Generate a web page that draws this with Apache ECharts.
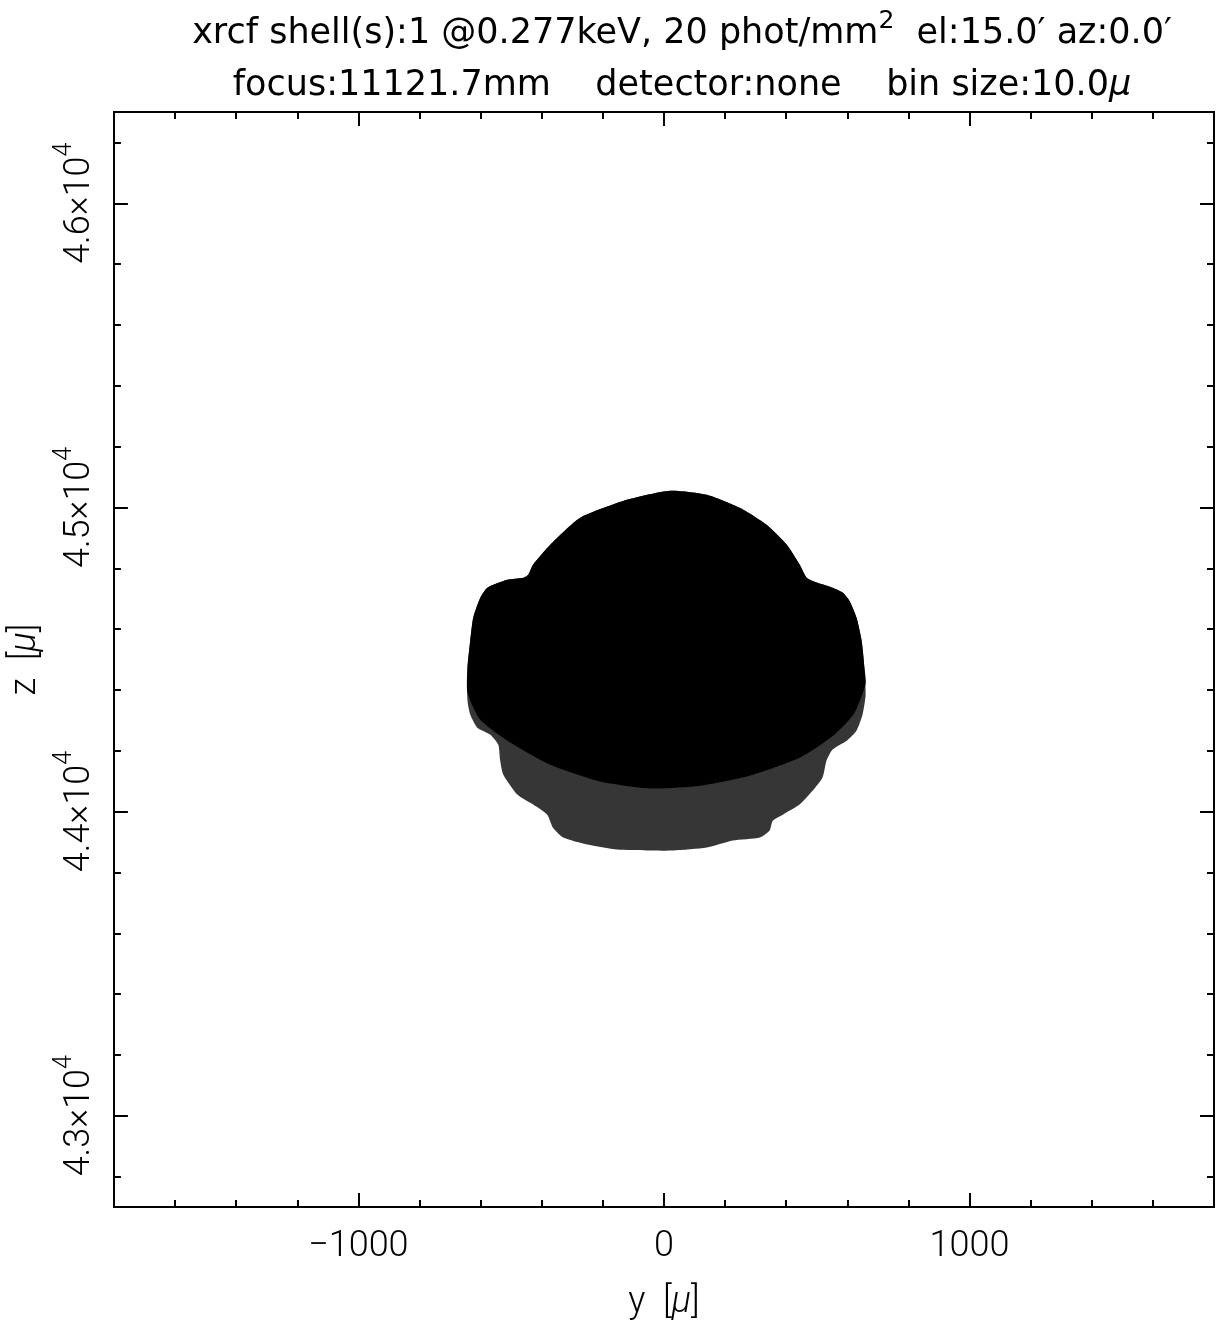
<!DOCTYPE html>
<html>
<head>
<meta charset="utf-8">
<script src="https://cdn.jsdelivr.net/npm/echarts@6/dist/echarts.min.js"></script>
<style>
  html, body { margin: 0; padding: 0; background: #fff; }
  #chart { width: 1226px; height: 1331px; }
</style>
</head>
<body>
<div id="chart"></div>
<script>
// Axis ranges (microns)
const yRange = [-1800, 1800];
const zRange = [42700, 46300];

// Tick positions
const yMajorTicks = [-1000, 0, 1000];
const yMinorTicks = [-1600, -1400, -1200, -800, -600, -400, -200, 200, 400, 600, 800, 1200, 1400, 1600];
const zMajorTicks = [43000, 44000, 45000, 46000];
const zMinorTicks = [42800, 43200, 43400, 43600, 43800, 44200, 44400, 44600, 44800, 45200, 45400, 45600, 45800, 46200];

// Outer edge of the photon footprint, [y, z] in microns
const footprintEdge = [
  [20, 45055], [140, 45042], [248, 44999], [336, 44943], [402, 44877], [444, 44812],
  [467, 44769], [500, 44753], [552, 44736], [585, 44720], [607, 44693], [630, 44638],
  [647, 44562], [656, 44473], [660, 44384], [650, 44319], [630, 44266], [598, 44233],
  [552, 44204], [532, 44168], [519, 44112], [487, 44069], [444, 44023], [389, 43990],
  [356, 43970], [346, 43938], [314, 43915], [225, 43905], [140, 43882], [29, 43872],
  [-56, 43872], [-153, 43875], [-251, 43892], [-330, 43915], [-363, 43947], [-382, 43990],
  [-428, 44023], [-480, 44056], [-526, 44122], [-536, 44168], [-542, 44220], [-568, 44253],
  [-611, 44276], [-634, 44319], [-643, 44365], [-643, 44473], [-634, 44562], [-624, 44638],
  [-601, 44703], [-578, 44736], [-513, 44762], [-460, 44769], [-444, 44779], [-428, 44812],
  [-372, 44877], [-274, 44966], [-121, 45025]
];

// Edge of the saturated (densest) part of the footprint
const denseCoreEdge = [
  [20, 45055], [140, 45042], [248, 44999], [336, 44943], [402, 44877], [444, 44812],
  [467, 44769], [500, 44753], [552, 44736], [585, 44720], [607, 44693], [630, 44638],
  [647, 44562], [656, 44473], [660, 44420], [624, 44325], [558, 44253], [444, 44177],
  [281, 44118], [118, 44085], [-46, 44076], [-209, 44099], [-372, 44154], [-503, 44227],
  [-601, 44302], [-643, 44391], [-643, 44473], [-634, 44562], [-624, 44638], [-601, 44703],
  [-578, 44736], [-513, 44762], [-460, 44769], [-444, 44779], [-428, 44812], [-372, 44877],
  [-274, 44966], [-121, 45025]
];

const FONT = 'Roboto, "Liberation Sans", sans-serif';
const TFONT = '"DejaVu Sans", Roboto, sans-serif';
const FW = 300;
const INK = '#000';

const chart = echarts.init(document.getElementById('chart'), null, { renderer: 'canvas' });

function fmtY(v) {
  return v < 0 ? '\u2212' + Math.abs(v) : String(v);
}
function fmtZ(v) {
  return '{b|' + (v / 1e4).toFixed(1) + '\u00d710}{s|4}';
}

const labelRich = {
  b: { fontFamily: FONT, fontWeight: FW, fontSize: 36, color: INK, lineHeight: 46, verticalAlign: 'bottom' },
  s: { fontFamily: FONT, fontWeight: FW, fontSize: 25, color: INK, lineHeight: 46, verticalAlign: 'top' }
};

function hAxis(pos, values, len, withLabels, extra) {
  return Object.assign({
    type: 'value', gridIndex: 0, position: pos,
    min: yRange[0], max: yRange[1],
    axisLine: { show: true, onZero: false, lineStyle: { color: INK, width: 2 } },
    axisTick: { show: true, inside: true, length: len, customValues: values, lineStyle: { color: INK, width: 2 } },
    axisLabel: withLabels
      ? { show: true, customValues: values, margin: 22, fontFamily: FONT, fontWeight: FW, fontSize: 36, color: INK, formatter: fmtY }
      : { show: false },
    splitLine: { show: false }
  }, extra || {});
}
function vAxis(pos, values, len, withLabels, extra) {
  return Object.assign({
    type: 'value', gridIndex: 0, position: pos,
    min: zRange[0], max: zRange[1],
    axisLine: { show: true, onZero: false, lineStyle: { color: INK, width: 2 } },
    axisTick: { show: true, inside: true, length: len, customValues: values, lineStyle: { color: INK, width: 2 } },
    axisLabel: withLabels
      ? { show: true, customValues: values, margin: 16, rotate: 90, formatter: fmtZ, rich: labelRich }
      : { show: false },
    splitLine: { show: false }
  }, extra || {});
}

function polygonSeries(edge, fill) {
  return {
    type: 'custom',
    coordinateSystem: 'cartesian2d',
    xAxisIndex: 0, yAxisIndex: 0,
    silent: true,
    data: [[edge[0][0], edge[0][1]]],
    renderItem: function (params, api) {
      return {
        type: 'polygon',
        shape: { points: edge.map(function (p) { return api.coord(p); }), smooth: 0.2 },
        style: { fill: fill, stroke: null }
      };
    }
  };
}

const titleTextStyle = { fontFamily: TFONT, fontWeight: 'normal', fontSize: 35, color: INK, lineHeight: 52 };

const option = {
  backgroundColor: '#fff',
  animation: false,
  title: {
    left: 677, top: -6, textAlign: 'center',
    text: '{t|xrcf shell(s):1 @0.277keV, 20 phot/mm}{sp|2}{t|  el:15.0\u2032 az:0.0\u2032}\n' +
          '{t|focus:11121.7mm    detector:none    bin size:10.0}{mu|\u03bc}',
    textStyle: {
      fontWeight: 'normal',
      rich: {
        t: Object.assign({}, titleTextStyle, { verticalAlign: 'bottom' }),
        sp: Object.assign({}, titleTextStyle, { fontSize: 25, lineHeight: null, verticalAlign: 'top', padding: [10, 0, 0, 0] }),
        mu: Object.assign({}, titleTextStyle, { fontStyle: 'italic', verticalAlign: 'bottom' })
      }
    }
  },
  grid: { left: 113, top: 112, width: 1101, height: 1095, containLabel: false },
  xAxis: [
    hAxis('bottom', yMajorTicks, 14, true, {
      name: '{a|y  [}{m|\u03bc}{a|]}', nameLocation: 'middle', nameGap: 78,
      nameTextStyle: { rich: {
        a: { fontFamily: FONT, fontWeight: FW, fontSize: 36, color: INK },
        m: { fontFamily: FONT, fontWeight: FW, fontSize: 36, color: INK, fontStyle: 'italic' }
      } }
    }),
    hAxis('bottom', yMinorTicks, 7, false),
    hAxis('top', yMajorTicks, 14, false),
    hAxis('top', yMinorTicks, 7, false)
  ],
  yAxis: [
    vAxis('left', zMajorTicks, 14, true, {
      name: '{a|z  [}{m|\u03bc}{a|]}', nameLocation: 'middle', nameGap: 64, nameRotate: 90,
      nameTextStyle: { rich: {
        a: { fontFamily: FONT, fontWeight: FW, fontSize: 36, color: INK },
        m: { fontFamily: FONT, fontWeight: FW, fontSize: 36, color: INK, fontStyle: 'italic' }
      } }
    }),
    vAxis('left', zMinorTicks, 7, false),
    vAxis('right', zMajorTicks, 14, false),
    vAxis('right', zMinorTicks, 7, false)
  ],
  series: [
    polygonSeries(footprintEdge, '#363636'),
    polygonSeries(denseCoreEdge, '#000')
  ]
};

chart.setOption(option);
</script>
</body>
</html>
